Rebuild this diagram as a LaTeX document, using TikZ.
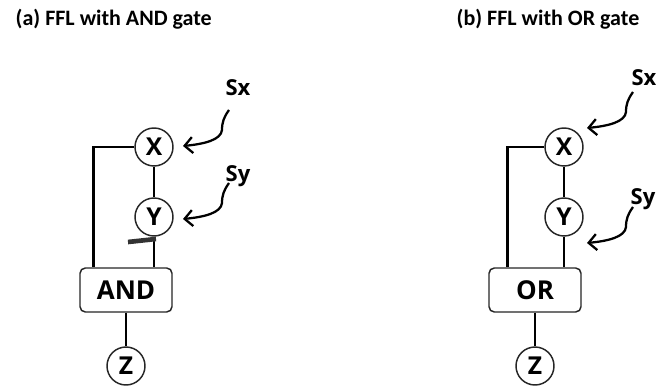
\documentclass[tikz,border=0pt]{standalone}
\usepackage{fontspec}
\setmainfont{Open Sans}
\newfontfamily\titlefont{Carlito}
\usetikzlibrary{arrows.meta}

\tikzset{
  species/.style={circle, draw=black!85, line width=1.1pt, fill=white,
    minimum size=28.5pt, inner sep=0pt, font=\fontsize{18.5}{18.5}\selectfont\bfseries},
  gate/.style={draw=black!85, line width=1.1pt, rounded corners=4pt, fill=white,
    minimum width=69pt, minimum height=33pt, font=\fontsize{19.5}{19.5}\selectfont\bfseries},
  caption/.style={anchor=west, font=\titlefont\bfseries\fontsize{16.5}{16.5}\selectfont},
  input/.style={font=\fontsize{16.5}{16.5}\selectfont\bfseries},
  wire/.style={line width=2pt},
  repress/.style={line width=3.5pt, black!80},
  signal/.pic={
    \draw[line width=1.7pt, -{Straight Barb[length=6pt, width=12pt]}]
      (0,0) .. controls (-5,7) and (-7,12) .. (-7,20)
            .. controls (-8,30) and (-25,34) .. (-46,36);
  }
}

\begin{document}
\begin{tikzpicture}[x=0.75pt, y=-0.75pt]
  \useasboundingbox (0,0) rectangle (670,388);

  % AND gate loop
  \node[caption] (ta) at (11,19) {(a) FFL with AND gate};
  \node[species] (xa) at (154,147) {X};
  \node[species] (ya) at (154,217) {Y};
  \node[gate] (anda) at (126,290) {AND};
  \node[species] (za) at (126,366) {Z};
  \node[input] (sxa) at (238,88) {Sx};
  \node[input] (sya) at (238,176) {Sy};

  \draw[wire] (xa) -- (ya);
  \draw[wire] (ya) -- (ya |- anda.north);
  \draw[wire] (xa.west) -| ([xshift=10.5pt]anda.north west);
  \draw[wire] (anda) -- (za);
  \draw[repress] (128,242) -- (156,239);

  \pic at (229,110) {signal};
  \pic at (229,183) {signal};

  % OR gate loop
  \node[caption] (tb) at (452,19) {(b) FFL with OR gate};
  \node[species] (xb) at (564,147) {X};
  \node[species] (yb) at (564,217) {Y};
  \node[gate] (orb) at (535,290) {OR};
  \node[species] (zb) at (535,366) {Z};
  \node[input] (sxb) at (644,78) {Sx};
  \node[input] (syb) at (643,199) {Sy};

  \draw[wire] (xb) -- (yb);
  \draw[wire] (yb) -- (yb |- orb.north);
  \draw[wire] (xb.west) -| ([xshift=14.25pt]orb.north west);
  \draw[wire] (orb) -- (zb);

  \pic at (633,92) {signal};
  \pic at (633,207) {signal};
\end{tikzpicture}
\end{document}
